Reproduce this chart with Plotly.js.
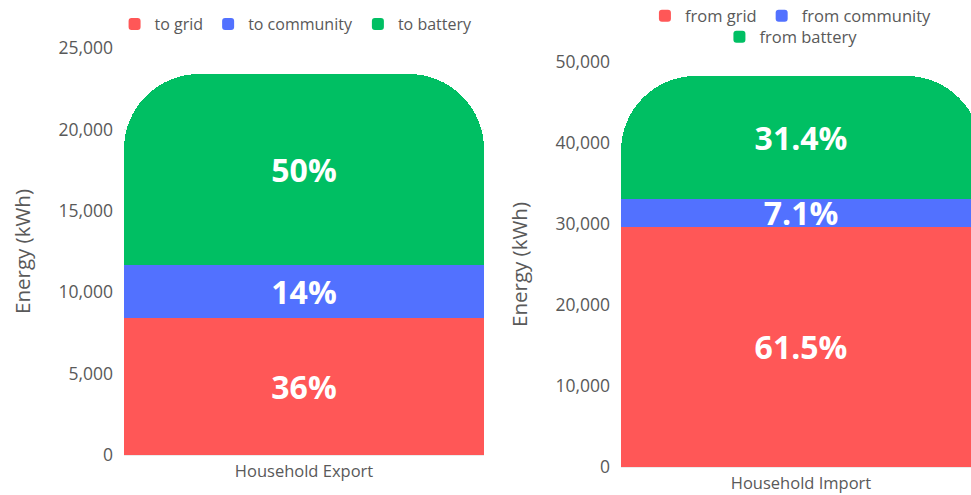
<!DOCTYPE html>
<html>
<head>
<meta charset="utf-8">
<script src="https://cdn.plot.ly/plotly-3.0.1.min.js"></script>
<style>
  html, body { margin: 0; padding: 0; width: 971px; height: 495px; overflow: hidden; background: #fff; }
  #wrap { position: relative; width: 971px; height: 495px; overflow: hidden; }
  #left { position: absolute; left: 0; top: 0; width: 497px; height: 495px; }
  #right { position: absolute; left: 497px; top: 0; width: 497px; height: 495px; }
</style>
</head>
<body>
<div id="wrap"><div id="left"></div><div id="right"></div></div>
<script>
// ---- data ----
const exportCategory = ['Household Export'];
const exportNames = ['to grid', 'to community', 'to battery'];
const exportValues = [8420, 3280, 11700];
const exportLabels = ['36%', '14%', '50%'];

const importCategory = ['Household Import'];
const importNames = ['from grid', 'from community', 'from battery'];
const importValues = [29690, 3430, 15160];
const importLabels = ['61.5%', '7.1%', '31.4%'];

const colors = ['#FF5757', '#5271FF', '#00BF63'];

const yTitle = 'Energy (kWh)';
const FONT = '"Open Sans", sans-serif';
const GREY = '#595959';

function makeTraces(cat, names, vals, labels, legendIds) {
  return names.map((n, i) => ({
    type: 'bar',
    name: n,
    x: cat,
    y: [vals[i]],
    text: [labels[i]],
    textposition: 'inside',
    insidetextanchor: 'middle',
    constraintext: 'none',
    textfont: { family: FONT, size: 32, color: '#ffffff', weight: 'bold' },
    marker: { color: colors[i], line: { width: 0 } },
    legend: legendIds[i],
    hoverinfo: 'skip'
  }));
}

function legendDef(x, y, size) {
  return {
    orientation: 'h', x: x, xanchor: 'center', y: y, yanchor: 'middle',
    font: { family: FONT, size: size, color: GREY },
    traceorder: 'normal', bgcolor: 'rgba(0,0,0,0)'
  };
}

function makeLayout(range, dtick, top, bottom) {
  return {
    width: 497, height: 495,
    margin: { l: 124, r: 13, t: top, b: bottom, pad: 0, autoexpand: false },
    barmode: 'stack',
    bargap: 0,
    barcornerradius: 75,
    paper_bgcolor: '#ffffff',
    plot_bgcolor: '#ffffff',
    font: { family: FONT, size: 16.5, color: GREY },
    showlegend: true,
    xaxis: {
      showgrid: false, zeroline: false, showline: false,
      ticklabelstandoff: 4,
      tickfont: { family: FONT, size: 16.5, color: GREY },
      automargin: false,
      fixedrange: true
    },
    yaxis: {
      range: range, dtick: dtick, tickformat: ',d',
      showgrid: true, gridcolor: '#ebebeb', gridwidth: 1,
      zeroline: true, zerolinecolor: '#ebebeb',
      showline: false, ticks: '',
      ticklabelstandoff: 10,
      tickfont: { family: FONT, size: 17.5, color: GREY },
      title: { text: yTitle, font: { family: FONT, size: 20.5, color: GREY }, standoff: 22 },
      automargin: false,
      fixedrange: true
    }
  };
}

const leftLayout = makeLayout([0, 25000], 5000, 48, 40);
leftLayout.legend = legendDef(0.478, 1 + (48 - 24) / 407, 16);

const rightLayout = makeLayout([0, 50000], 10000, 62, 28);
rightLayout.legend = legendDef(0.472, 1 + (62 - 16) / 405, 16.5);
rightLayout.legend2 = legendDef(0.472, 1 + (62 - 37) / 405, 16.5);

Plotly.newPlot('left',
  makeTraces(exportCategory, exportNames, exportValues, exportLabels, ['legend', 'legend', 'legend']),
  leftLayout,
  { displayModeBar: false, staticPlot: true });

Plotly.newPlot('right',
  makeTraces(importCategory, importNames, importValues, importLabels, ['legend', 'legend', 'legend2']),
  rightLayout,
  { displayModeBar: false, staticPlot: true });
</script>
</body>
</html>
